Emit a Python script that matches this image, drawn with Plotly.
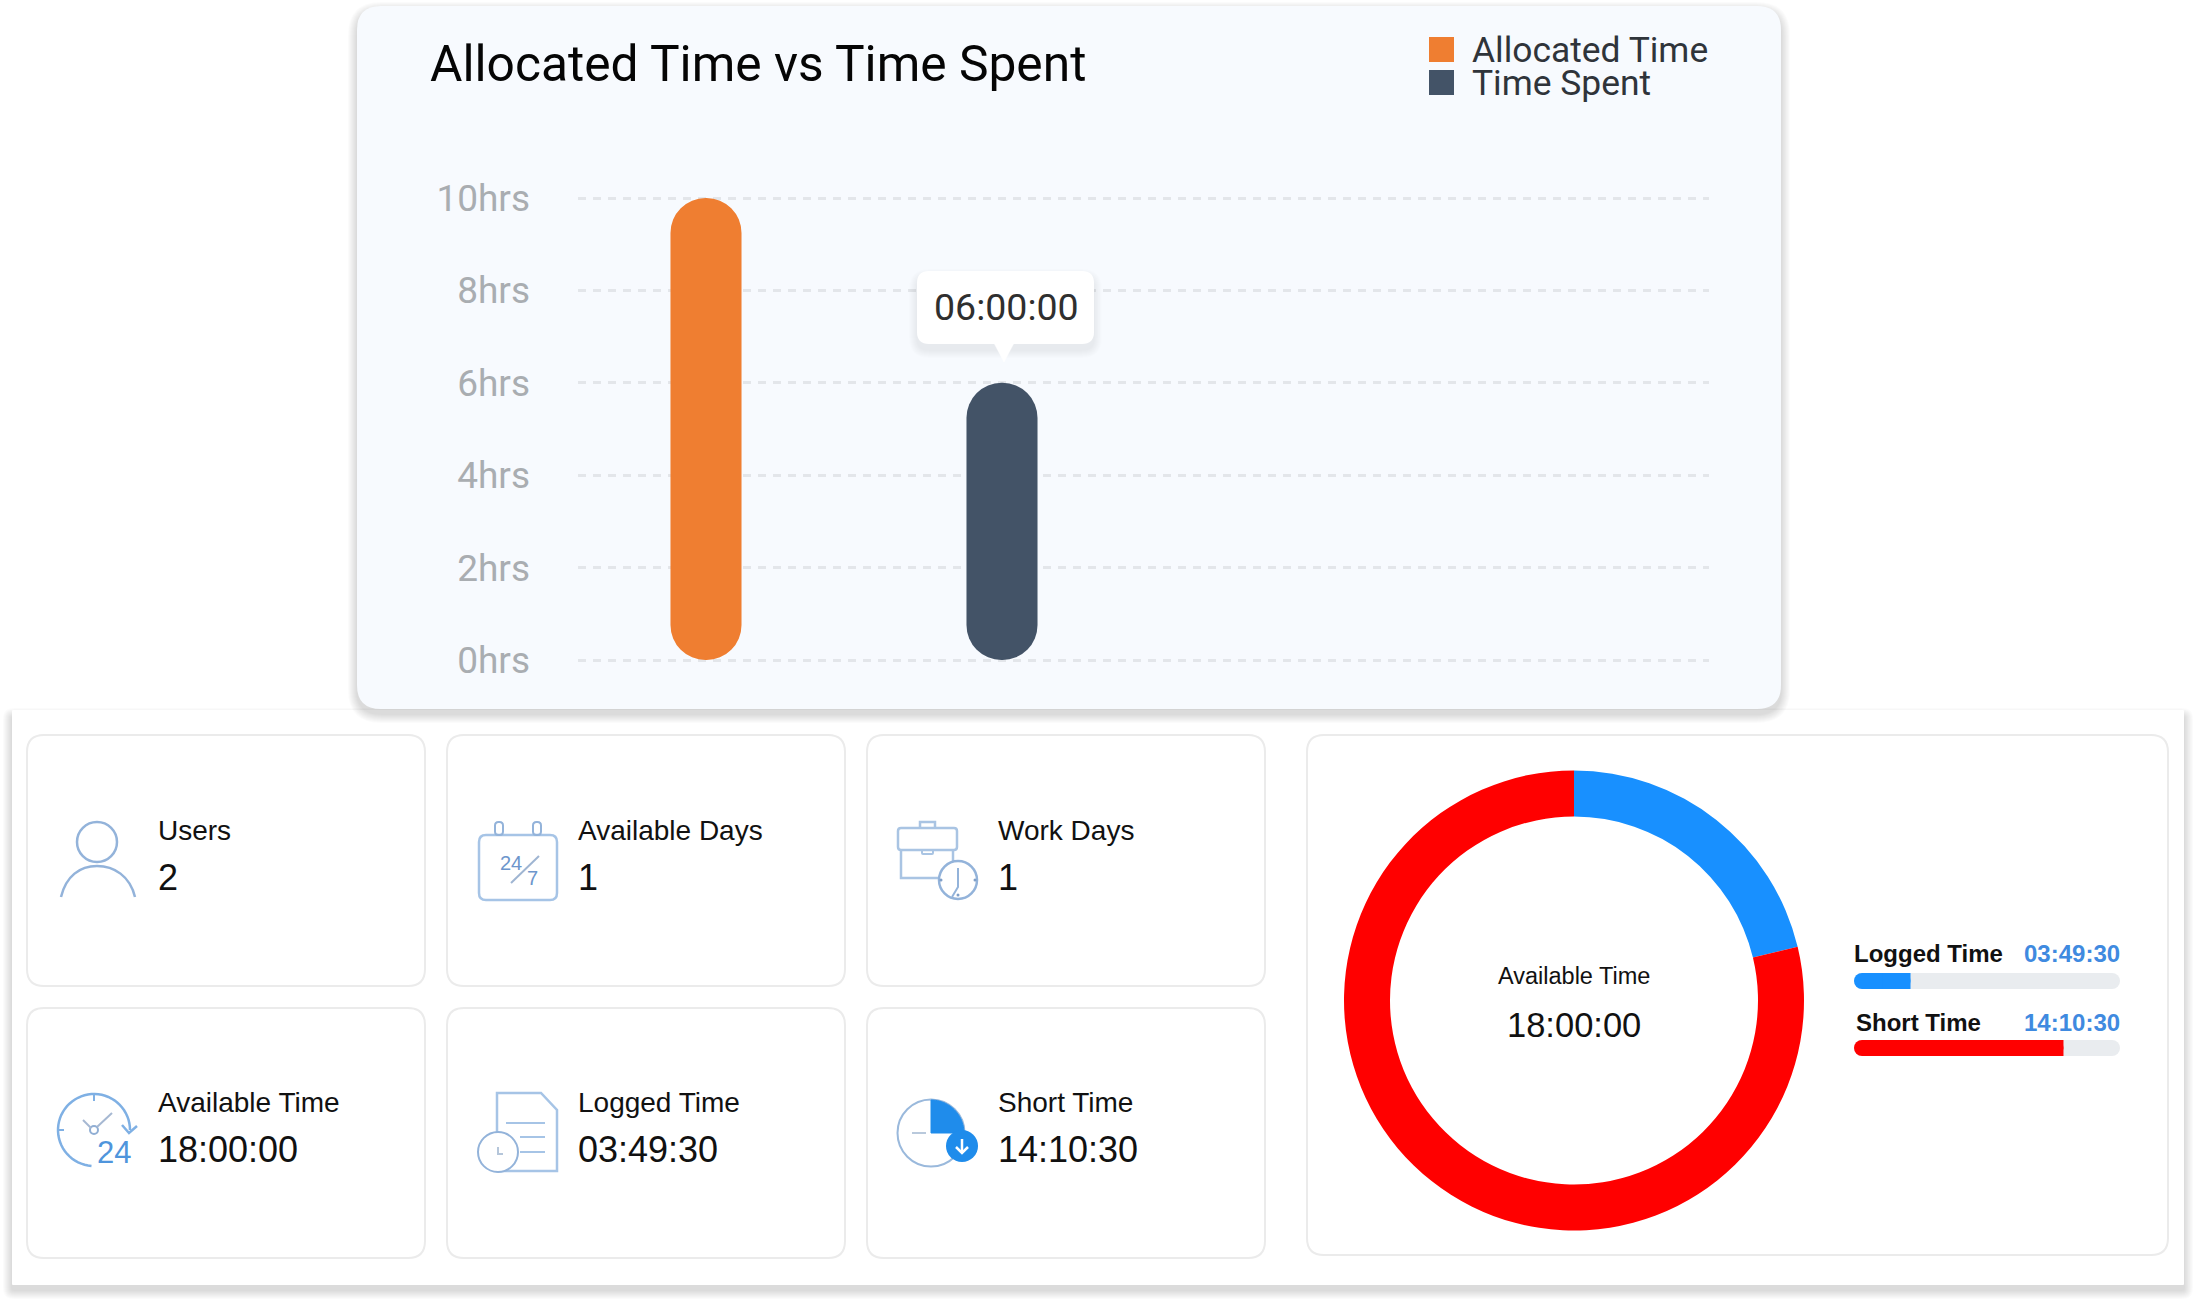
import math
import plotly.graph_objects as go

W, H = 2196, 1303

# ---- data ----
bar_categories = ["Allocated Time", "Time Spent"]
bar_hours = [10, 6]
hour_ticks = [0, 2, 4, 6, 8, 10]
hour_tick_labels = ["0hrs", "2hrs", "4hrs", "6hrs", "8hrs", "10hrs"]
tooltip_label = "06:00:00"
donut_labels = ["Logged Time", "Short Time"]
donut_times = ["03:49:30", "14:10:30"]
available_time = "18:00:00"
stat_labels = ["Users", "Available Days", "Work Days", "Available Time", "Logged Time", "Short Time"]
stat_values = ["2", "1", "1", "18:00:00", "03:49:30", "14:10:30"]

ORANGE, NAVY = "#ef7e31", "#435367"
RED, BLUE = "#ff0000", "#1890ff"
TRACK = "#e9ecef"
ICON = "#93b3da"


def secs(t):
    h, m, s = [int(p) for p in t.split(":")]
    return h * 3600 + m * 60 + s


donut_secs = [secs(t) for t in donut_times]
total_secs = secs(available_time)


# ---- pixel helpers (figure has no margin, so paper == pixels) ----
def fx(x):
    return x / W


def fy(y):
    return 1 - y / H


def dom_x(a, b):
    return [fx(a), fx(b)]


def dom_y(a, b):
    return [fy(b), fy(a)]


def path(cmds):
    out = []
    for c in cmds:
        letter, nums = c[0], c[1:]
        pts = []
        for i in range(0, len(nums), 2):
            pts.append(f"{fx(nums[i]):.6f},{fy(nums[i + 1]):.6f}")
        out.append(letter + " ".join(pts))
    return " ".join(out)


shapes = []


def add_path(cmds, fill=None, line=None, width=0, layer="below", close=False):
    d = path(cmds) + (" Z" if close else "")
    s = dict(type="path", xref="paper", yref="paper", path=d, layer=layer,
             line=dict(color=line or "rgba(0,0,0,0)", width=width))
    if fill:
        s["fillcolor"] = fill
    shapes.append(s)


def rrect(x0, y0, x1, y1, r, **kw):
    cmds = [("M", x0 + r, y0), ("L", x1 - r, y0), ("Q", x1, y0, x1, y0 + r),
            ("L", x1, y1 - r), ("Q", x1, y1, x1 - r, y1), ("L", x0 + r, y1),
            ("Q", x0, y1, x0, y1 - r), ("L", x0, y0 + r), ("Q", x0, y0, x0 + r, y0)]
    add_path(cmds, close=True, **kw)


def circle(cx, cy, r, fill=None, line=None, width=0, layer="below"):
    shapes.append(dict(type="circle", xref="paper", yref="paper", layer=layer,
                       x0=fx(cx - r), x1=fx(cx + r), y0=fy(cy + r), y1=fy(cy - r),
                       fillcolor=fill or "rgba(0,0,0,0)",
                       line=dict(color=line or "rgba(0,0,0,0)", width=width)))


def poly(pts, color=ICON, width=2.5, fill=None, close=False, layer="below"):
    cmds = [("M", *pts[0])] + [("L", *p) for p in pts[1:]]
    add_path(cmds, line=color, width=width, fill=fill, close=close, layer=layer)


def arc_pts(cx, cy, r, a0, a1, n=48):
    pts = []
    for i in range(n + 1):
        a = math.radians(a0 + (a1 - a0) * i / n)
        pts.append((cx + r * math.sin(a), cy - r * math.cos(a)))
    return pts


def shadow(x0, y0, x1, y1, r, dy, layers, alpha, layer="below"):
    for i in range(layers, 0, -1):
        rrect(x0 - i, y0 - i + dy, x1 + i, y1 + i + dy, r + i,
              fill=f"rgba(0,0,0,{alpha})", layer=layer)


annotations = []


def text(x, y, s, size, color="#111111", font="Liberation Sans", anchor="left", bold=False):
    annotations.append(dict(xref="paper", yref="paper", x=fx(x), y=fy(y), text=f"<b>{s}</b>" if bold else s,
                            showarrow=False, xanchor=anchor, yanchor="middle", borderpad=0, borderwidth=0,
                            font=dict(size=size, color=color, family=font)))


# ---- lower panel ----
shadow(12, 712, 2184, 1285, 2, 5, 9, 0.014)
rrect(12, 710, 2184, 1285, 1, fill="#ffffff")

CARD_BORDER = "#ebebeb"
col_x = [(27, 425), (447, 845), (867, 1265)]
row_y = [(735, 986), (1008, 1258)]
label_x = [158, 578, 998]
label_y = [830, 1102]
value_y = [877, 1149]
for i in range(6):
    c, r_ = i % 3, i // 3
    rrect(col_x[c][0], row_y[r_][0], col_x[c][1], row_y[r_][1], 17, fill="#ffffff", line=CARD_BORDER, width=2)
    text(label_x[c], label_y[r_], stat_labels[i], 28)
    text(label_x[c], value_y[r_], stat_values[i], 36)
rrect(1307, 735, 2168, 1255, 17, fill="#ffffff", line=CARD_BORDER, width=2)

# ---- top card ----
shadow(357, 6, 1781, 709, 24, 5, 9, 0.016)
rrect(357, 6, 1781, 709, 24, fill="#f7fafe")

# ---- icons ----
circle(97, 842, 20, line=ICON, width=2.5)
add_path([("M", 61, 897), ("C", 66, 876, 80, 866, 97, 866), ("C", 114, 866, 130, 876, 135, 897)],
         line=ICON, width=2.5)
rrect(479, 835, 557, 900, 7, line="#a6c4e6", width=2.5)
for tx in (499, 537):
    rrect(tx - 4, 822, tx + 4, 835, 3.5, line=ICON, width=2)
poly([(511, 883), (539, 856)], color="#9fb5d2", width=2)
text(511, 863, "24", 20, color="#6d96cc", anchor="center")
text(532, 878, "7", 20, color="#6d96cc", anchor="center")
rrect(898, 828, 957, 850, 3, line="#a9c4e3", width=2.5)
poly([(901, 850), (901, 878), (940, 878)], color="#a9c4e3")
poly([(953, 850), (953, 861)], color="#a9c4e3")
poly([(920, 828), (920, 822), (935, 822), (935, 828)], color="#a9c4e3")
rrect(922, 850, 933, 854, 1, line="#a9c4e3", width=2)
circle(958, 880, 19, fill="#ffffff", line=ICON, width=2.5)
poly([(958, 868), (958, 887), (952, 897)], color=ICON, width=2)
for dx, dy in ((941, 880), (975, 880), (958, 895)):
    circle(dx, dy, 1.5, fill="#7f9fc8")
poly(arc_pts(94, 1130, 36, 184, 450), color="#7fb0e4", width=2.5)
poly([(122, 1125), (129, 1133), (137, 1126)], color="#7fb0e4", width=2.5)
poly([(94, 1095), (94, 1101)], color="#7fb0e4", width=2)
poly([(58, 1130), (64, 1130)], color="#7fb0e4", width=2)
circle(94, 1130, 4, line="#90aed4", width=2)
poly([(83, 1120), (91, 1128)], color="#a6b8d2", width=2)
poly([(112, 1113), (97, 1127)], color="#a6b8d2", width=2)
text(114, 1152, "24", 31, color="#4f95dc", anchor="center")
poly([(497, 1093), (541, 1093), (557, 1110), (557, 1171), (497, 1171)], color="#a6c4e6", close=True)
poly([(506, 1123), (545, 1123)], color="#a6c4e6", width=2)
poly([(520, 1137), (545, 1137)], color="#a6c4e6", width=2)
poly([(520, 1152), (545, 1152)], color="#a6c4e6", width=2)
circle(498, 1152, 20, fill="#ffffff", line=ICON, width=2)
poly([(498, 1147), (498, 1154), (503, 1154)], color="#b5c6da", width=2)
circle(931, 1133, 33.5, line="#9ab9dc", width=2)
poly([(931, 1133)] + arc_pts(931, 1133, 33, 0, 90, n=24), color="#1f8ceb", fill="#1f8ceb", width=1, close=True)
poly([(912, 1133), (926, 1133)], color="#b9c9dc", width=2)
circle(962, 1146, 16, fill="#1f8ceb")
poly([(962, 1139), (962, 1153)], color="#ffffff", width=2.5)
poly([(956, 1147), (962, 1153), (968, 1147)], color="#ffffff", width=2.5)

# ---- legend of the column chart ----
for y0, colr, lab in ((37, ORANGE, bar_categories[0]), (70, NAVY, bar_categories[1])):
    rrect(1429, y0, 1454, y0 + 25, 0.01, fill=colr)
    text(1472, y0 + 13, lab, 35.4, color="#2f343a", font="Roboto")

text(430, 64, "Allocated Time vs Time Spent", 49.7, color="#050505", font="Roboto")

# ---- tooltip (above the gridlines) ----
shadow(917, 271, 1094, 344, 12, 6, 8, 0.006, layer="above")
rrect(917, 271, 1094, 344, 12, fill="#ffffff", layer="above")
poly([(994, 343), (1004, 362), (1014, 343)], color="#ffffff", fill="#ffffff", width=0.5, close=True, layer="above")
text(1006, 307, tooltip_label, 37.5, color="#2f2f2f", font="Roboto", anchor="center")

# ---- donut centre + progress labels ----
text(1574, 976, "Available Time", 23.5, anchor="center")
text(1574, 1025, available_time, 34.5, anchor="center")
rows_y = [954, 1022]
rows_x = [1854, 1856]
for k in range(2):
    text(rows_x[k], rows_y[k], donut_labels[k], 24, bold=True)
    text(2120, rows_y[k], donut_times[k], 24, color="#3f8ae0", anchor="right", bold=True)

fig = go.Figure()

# ---- pill columns (an explicit base rounds both ends) ----
PILL_R = 35.5
bar_colors = [ORANGE, NAVY]
for i, cat in enumerate(bar_categories):
    fig.add_trace(go.Bar(x=[cat], y=[bar_hours[i]], base=[0], width=0.24, name=cat,
                         marker=dict(color=bar_colors[i], cornerradius=PILL_R, line=dict(width=0)),
                         showlegend=False, hoverinfo="skip", cliponaxis=False,
                         xaxis="x", yaxis="y"))

# ---- donut ----
fig.add_trace(go.Pie(labels=donut_labels, values=donut_secs, hole=0.8, sort=False, direction="clockwise",
                     rotation=0, marker=dict(colors=[BLUE, RED], line=dict(width=0)), textinfo="none",
                     showlegend=False, hoverinfo="label+value",
                     domain=dict(x=dom_x(1344, 1804), y=dom_y(770.5, 1230.5))))

# ---- progress bars: pill track, pill fill, square tail of the fill ----
BAR_R = 8
fill_colors = [BLUE, RED]
for k, lab in enumerate(donut_labels):
    fig.add_trace(go.Bar(y=[lab], x=[total_secs], base=[0], orientation="h", width=0.24,
                         marker=dict(color=TRACK, cornerradius=BAR_R, line=dict(width=0)),
                         showlegend=False, hoverinfo="skip", xaxis="x2", yaxis="y2"))
    fig.add_trace(go.Bar(y=[lab], x=[donut_secs[k]], base=[0], orientation="h", width=0.24,
                         marker=dict(color=fill_colors[k], cornerradius=BAR_R, line=dict(width=0)),
                         showlegend=False, hoverinfo="skip", xaxis="x2", yaxis="y2"))
    half = donut_secs[k] / 2
    fig.add_trace(go.Bar(y=[lab], x=[half], base=[half], orientation="h", width=0.24,
                         marker=dict(color=fill_colors[k], cornerradius=0, line=dict(width=0)),
                         showlegend=False, hoverinfo="skip", xaxis="x2", yaxis="y2"))

PX_PER_CAT = 296
x_left = (578 - 706) / PX_PER_CAT
x_right = (1709 - 706) / PX_PER_CAT
PX_PER_HOUR = 46.2
Y_PAD = 0.1

fig.update_layout(
    template="none",
    width=W, height=H, autosize=False,
    margin=dict(l=0, r=0, t=0, b=0, pad=0),
    paper_bgcolor="#ffffff", plot_bgcolor="rgba(0,0,0,0)",
    barmode="overlay", showlegend=False,
    shapes=shapes, annotations=annotations,
    xaxis=dict(domain=dom_x(578, 1709), anchor="y", type="category",
               categoryorder="array", categoryarray=bar_categories,
               range=[x_left, x_right], showticklabels=False, showgrid=False,
               zeroline=False, showline=False, ticks="", automargin=False),
    yaxis=dict(domain=dom_y(198 - Y_PAD * PX_PER_HOUR, 660 + Y_PAD * PX_PER_HOUR), anchor="x",
               range=[-Y_PAD, 10 + Y_PAD],
               tickmode="array", tickvals=hour_ticks, ticktext=hour_tick_labels,
               tickfont=dict(family="Roboto", size=37, color="#a9adb1"),
               ticklabelstandoff=47, ticks="", showline=False, zeroline=False, automargin=False,
               showgrid=True, gridcolor="#e3e6ea", gridwidth=2.5, griddash="8px,7px"),
    xaxis2=dict(domain=dom_x(1854, 2120), anchor="y2", range=[0, total_secs], visible=False, automargin=False),
    yaxis2=dict(domain=dom_y(947.5, 1081.5), anchor="x2", type="category",
                categoryorder="array", categoryarray=donut_labels,
                range=[1.5, -0.5], visible=False, automargin=False),
)

fig.write_html("out.html", config=dict(displayModeBar=False),
               post_script="document.body.style.margin='0';document.documentElement.style.overflow='hidden';")
